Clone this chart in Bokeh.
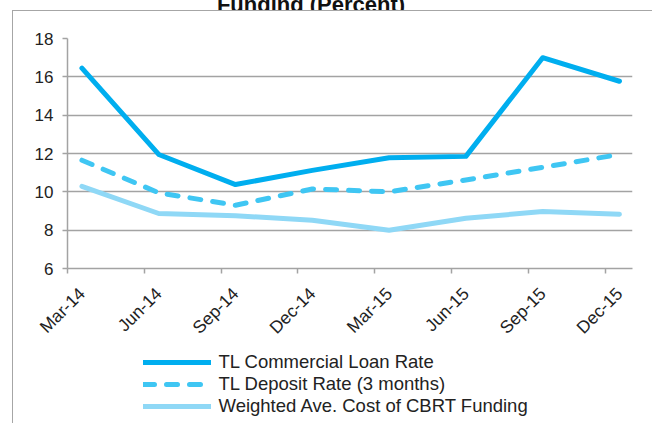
import math
from bokeh.plotting import figure
from bokeh.layouts import column
from bokeh.models import (FixedTicker, Range1d, Legend, LegendItem, Div, ColumnDataSource)
from bokeh.embed import file_html
from bokeh.resources import INLINE

months = ["Mar-14", "Jun-14", "Sep-14", "Dec-14", "Mar-15", "Jun-15", "Sep-15", "Dec-15"]
loan_rate = [16.45, 11.95, 10.38, 11.12, 11.78, 11.85, 17.0, 15.77]
deposit_rate = [11.65, 9.95, 9.3, 10.15, 10.0, 10.62, 11.28, 11.95]
cbrt_cost = [10.29, 8.87, 8.75, 8.52, 8.0, 8.62, 8.97, 8.83]
y_ticks = [6, 8, 10, 12, 14, 16, 18]
series_names = ["TL Commercial Loan Rate", "TL Deposit Rate (3 months)",
                "Weighted Ave. Cost of CBRT Funding"]
title_text = "Funding (Percent)"

FONT = "Liberation Sans"
GRAY = "#a3a3a3"
BORDER = "1.5px solid #a6a6a6"
styles = [
    dict(line_color="#00aeef", line_width=5, line_join="round", line_cap="round"),
    dict(line_color="#3fc6f3", line_width=5, line_dash="11 12", line_join="round", line_cap="round"),
    dict(line_color="#8fd8f6", line_width=5, line_join="round", line_cap="round"),
]
cols = ["loan", "dep", "cbrt"]

xs = list(range(len(months)))
src = ColumnDataSource(dict(x=xs, loan=loan_rate, dep=deposit_rate, cbrt=cbrt_cost))

# cut-off chart title at the very top of the crop
title_div = Div(
    text=('<div style="font-family:\'Liberation Sans\';font-weight:bold;font-size:22px;'
          'line-height:22px;margin-top:-12px;width:622px;text-align:center;color:#111">'
          + title_text + '</div>'),
    width=652, height=10, margin=(0, 0, 0, 0), styles={"overflow": "hidden"})

p = figure(width=640, height=340, output_backend="svg", toolbar_location=None,
           x_range=Range1d(-0.188, 7.17), y_range=Range1d(6, 18),
           min_border_left=54, min_border_right=21, min_border_top=27, min_border_bottom=83,
           margin=(0, 0, 0, 12),
           styles={"border-left": BORDER, "border-top": BORDER})
p.outline_line_color = None

for c, st in zip(cols, styles):
    p.line("x", c, source=src, **st)

# x axis
p.xaxis.ticker = FixedTicker(ticks=xs, minor_ticks=[i - 0.188 for i in xs])
p.xaxis.major_label_overrides = {i: m for i, m in enumerate(months)}
p.xaxis.major_label_orientation = math.pi / 4
p.xaxis.major_tick_out = 0
p.xaxis.major_tick_in = 0
p.xaxis.minor_tick_out = 5
p.xaxis.minor_tick_in = 0
p.xaxis.minor_tick_line_color = GRAY
p.xaxis.minor_tick_line_width = 1.5
p.xaxis.axis_line_color = GRAY
p.xaxis.axis_line_width = 1.5
p.xaxis.major_label_standoff = 17
p.xaxis.major_label_text_font = FONT
p.xaxis.major_label_text_font_size = "17.5px"
p.xaxis.major_label_text_color = "#222222"

# y axis
p.yaxis.ticker = FixedTicker(ticks=y_ticks)
p.yaxis.major_tick_out = 5
p.yaxis.major_tick_in = 0
p.yaxis.minor_tick_out = 0
p.yaxis.minor_tick_in = 0
p.yaxis.major_tick_line_color = GRAY
p.yaxis.major_tick_line_width = 1.5
p.yaxis.axis_line_color = GRAY
p.yaxis.axis_line_width = 1.5
p.yaxis.major_label_standoff = 9
p.yaxis.major_label_text_font = FONT
p.yaxis.major_label_text_font_size = "17px"
p.yaxis.major_label_text_color = "#222222"

p.xgrid.grid_line_color = None
p.ygrid.grid_line_color = GRAY
p.ygrid.grid_line_width = 1.5
p.ygrid.ticker = FixedTicker(ticks=y_ticks)

# legend panel below the chart (inside the same outer box); its series renderers
# use the same data but lie outside this panel's ranges, so only the legend shows
lf = figure(width=640, height=73, output_backend="svg", toolbar_location=None,
            x_range=Range1d(100, 101), y_range=Range1d(100, 101),
            x_axis_location=None, y_axis_location=None,
            min_border_left=0, min_border_right=0, min_border_top=0, min_border_bottom=0,
            margin=(0, 0, 0, 12), styles={"border-left": BORDER})
lf.outline_line_color = None
lf.xgrid.grid_line_color = None
lf.ygrid.grid_line_color = None
leg_items = []
for name, c, st in zip(series_names, cols, styles):
    r = lf.line("x", c, source=src, **st)
    leg_items.append(LegendItem(label=name, renderers=[r]))

legend = Legend(items=leg_items, location=(75.5, 5.8), orientation="vertical",
                glyph_width=68, glyph_height=20, label_height=20, spacing=0, padding=0, margin=0,
                label_standoff=8, border_line_alpha=0, background_fill_alpha=0,
                label_text_font=FONT, label_text_font_size="18.5px", label_text_color="#222222")
lf.add_layout(legend, "center")

layout = column(title_div, p, lf, spacing=0)

open("out.html", "w").write(file_html(layout, INLINE))
